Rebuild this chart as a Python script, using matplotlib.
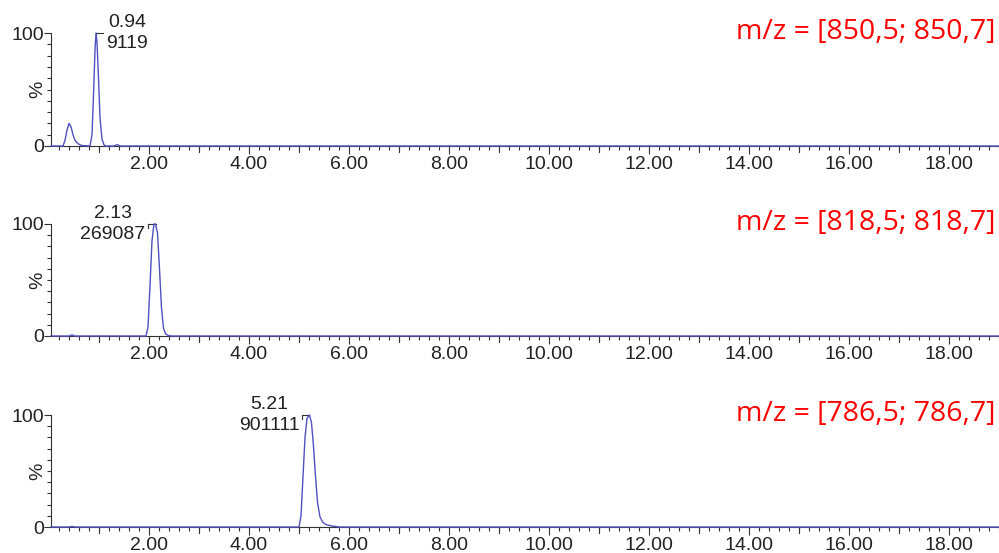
import matplotlib
matplotlib.use("Agg")
import matplotlib.pyplot as plt
from matplotlib.ticker import MultipleLocator, FixedLocator

# ---- data ----
t1 = [0.04, 0.28, 0.32, 0.36, 0.40, 0.44, 0.48, 0.52, 0.58, 0.65, 0.82, 0.86, 0.89, 0.92, 0.94, 0.96, 0.99, 1.02, 1.06, 1.10, 1.14, 1.30, 1.36, 1.42, 19.0]
i1 = [0, 0, 5, 14, 20, 17, 10, 5, 2, 0.5, 0, 10, 45, 85, 100, 92, 60, 25, 6, 1, 0, 0, 1.2, 0, 0]

t2 = [0.04, 0.40, 0.46, 0.52, 1.94, 1.98, 2.02, 2.06, 2.10, 2.13, 2.17, 2.21, 2.25, 2.29, 2.33, 2.38, 2.45, 19.0]
i2 = [0, 0, 1, 0, 0, 8, 45, 85, 100, 100, 92, 60, 25, 7, 2, 0.5, 0, 0]

t3 = [0.04, 0.40, 0.46, 0.52, 5.00, 5.04, 5.08, 5.12, 5.16, 5.21, 5.25, 5.29, 5.33, 5.37, 5.42, 5.48, 5.55, 5.65, 5.80, 19.0]
i3 = [0, 0, 0.5, 0, 0, 10, 45, 80, 97, 100, 93, 72, 45, 22, 9, 4, 2, 1, 0, 0]

peak_rt = [0.94, 2.13, 5.21]
peak_area = ["9119", "269087", "901111"]
peak_label_side = ["right", "left", "left"]
mz_labels = ["m/z = [850,5; 850,7]", "m/z = [818,5; 818,7]", "m/z = [786,5; 786,7]"]
x_ticks = [2, 4, 6, 8, 10, 12, 14, 16, 18]
x_tick_labels = ["2.00", "4.00", "6.00", "8.00", "10.00", "12.00", "14.00", "16.00", "18.00"]

traces = [(t1, i1), (t2, i2), (t3, i3)]

W, H = 999, 553
fig = plt.figure(figsize=(W / 100, H / 100), dpi=100)

boxes = [(51, 33, 146), (51, 224, 336), (51, 415, 527)]
tick_font = dict(family="Liberation Sans", size=14, color="#222222")
trace_color = "#5050c0"

for k, ((t, y), (lft, top, bot)) in enumerate(zip(traces, boxes)):
    ax = fig.add_axes([lft / W, 1 - bot / H, (W - lft) / W, (bot - top) / H])
    ax.set_xlim(0.04, 19.0)
    ax.set_ylim(0, 100)
    ax.plot(t, y, color=trace_color, lw=1.0, clip_on=False, zorder=3)
    for s in ["top", "right"]:
        ax.spines[s].set_visible(False)
    ax.spines["left"].set_color("#333333")
    ax.spines["bottom"].set_color("#333333")
    ax.spines["left"].set_linewidth(0.8)
    ax.spines["bottom"].set_linewidth(0.8)
    ax.xaxis.set_major_locator(FixedLocator(x_ticks))
    ax.set_xticklabels(x_tick_labels, fontdict=tick_font)
    ax.xaxis.set_minor_locator(MultipleLocator(0.2))
    ax.tick_params(axis="x", which="major", length=6, width=0.8, color="#333333", pad=1)
    ax.tick_params(axis="x", which="minor", length=3, width=0.8, color="#333333")
    ax.set_yticks([0, 100])
    ax.set_yticklabels(["0", "100"], fontdict=tick_font)
    ax.yaxis.set_minor_locator(MultipleLocator(10))
    ax.tick_params(axis="y", which="major", length=5, width=0.8, color="#333333", pad=0)
    ax.tick_params(axis="y", which="minor", length=3, width=0.8, color="#333333")
    for xv in range(1, 19, 2):
        ax.plot([xv, xv], [0, -5.3], color="#333333", lw=0.8, clip_on=False)

    fig.text(38 / W, 1 - ((top + bot) / 2) / H, "%", rotation=90, ha="center", va="center",
             **tick_font)

    rt = peak_rt[k]
    off = 0.15
    if peak_label_side[k] == "right":
        ax.plot([rt, rt + off], [100, 100], color="#333333", lw=0.8, clip_on=False)
        ax.plot([rt, rt], [100, 96], color="#333333", lw=0.8, clip_on=False)
        ax.text(rt + off + 0.05, 100, f"{rt:.2f}\n{peak_area[k]}", ha="left", va="center",
                multialignment="center", linespacing=1.35, **tick_font)
    else:
        ax.plot([rt - off, rt], [100, 100], color="#333333", lw=0.8, clip_on=False)
        ax.plot([rt - off, rt - off], [100, 96], color="#333333", lw=0.8, clip_on=False)
        ax.text(rt - off - 0.05, 100, f"{rt:.2f}\n{peak_area[k]}", ha="right", va="center",
                multialignment="center", linespacing=1.35, **tick_font)

    ax.text(995 / W, 1 - (top - 1) / H, mz_labels[k], transform=fig.transFigure,
            ha="right", va="center", color="#ff0000", family="Open Sans", fontsize=20.5)

fig.savefig("out.png", dpi=100)
